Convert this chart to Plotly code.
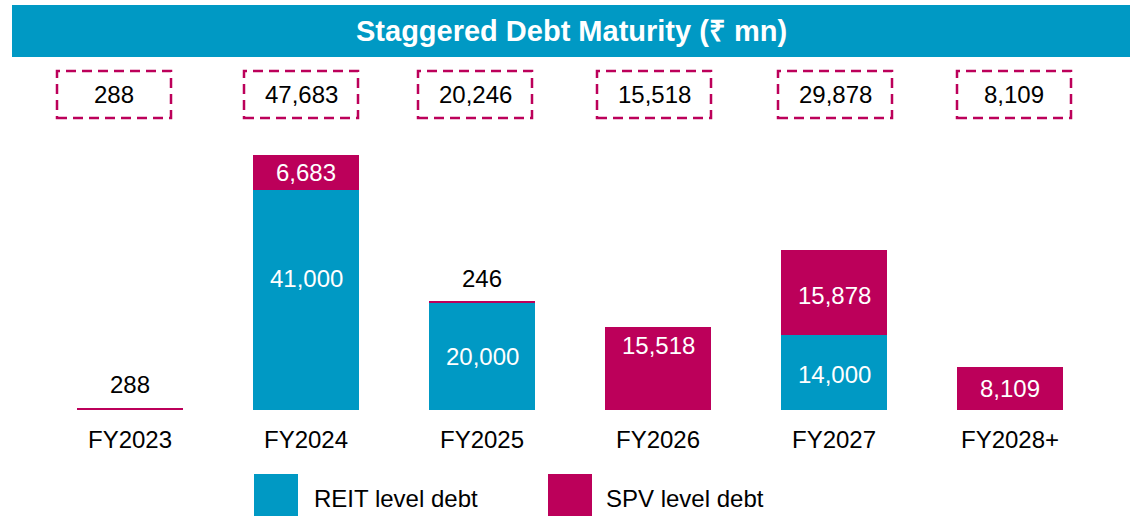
import plotly.graph_objects as go

# Debt maturity profile, values in ₹ mn
years = ["FY2023", "FY2024", "FY2025", "FY2026", "FY2027", "FY2028+"]
reit_debt = [0, 41000, 20000, 0, 14000, 0]
spv_debt = [288, 6683, 246, 15518, 15878, 8109]
totals = [r + s for r, s in zip(reit_debt, spv_debt)]

BLUE = "#0099C4"
MAGENTA = "#BC005A"
FONT = "Liberation Sans, Arial, sans-serif"
FS = 24

W, H = 1130, 516
ML, MR, MT, MB = 42, 32, 140, 106
PW, PH = W - ML - MR, H - MT - MB


def px(x):
    return (x - ML) / PW


def py(y):
    return (H - MB - y) / PH


fig = go.Figure()
fig.add_bar(x=years, y=reit_debt, name="REIT level debt", marker=dict(color=BLUE, line=dict(width=0)))
fig.add_bar(x=years, y=spv_debt, name="SPV level debt", marker=dict(color=MAGENTA, line=dict(width=0)))

annotations = []
shapes = []

# value labels inside segments (fraction of the segment height from its base)
reit_pos = [0.5, 0.6, 0.5, 0.5, 0.48, 0.5]
spv_pos = [0.5, 0.5, 0.5, 0.78, 0.47, 0.5]
for i, yr in enumerate(years):
    r, s = reit_debt[i], spv_debt[i]
    if r > 0:
        annotations.append(dict(x=yr, y=r * reit_pos[i], text=f"{r:,}", showarrow=False,
                                font=dict(color="white", size=FS, family=FONT)))
    if s > 2000:
        annotations.append(dict(x=yr, y=r + s * spv_pos[i], text=f"{s:,}", showarrow=False,
                                font=dict(color="white", size=FS, family=FONT)))
    elif s > 0:
        annotations.append(dict(x=yr, y=r + s, text=f"{s:,}", showarrow=False, yanchor="bottom",
                                yshift=8, font=dict(color="black", size=FS, family=FONT)))

# header bar
shapes.append(dict(type="rect", xref="paper", yref="paper", x0=px(12), x1=px(1130), y0=py(57), y1=py(5),
                   fillcolor=BLUE, line=dict(width=0), layer="below"))
annotations.append(dict(xref="paper", yref="paper", x=px(571), y=py(31), xanchor="center", yanchor="middle",
                        text="<b>Staggered Debt Maturity (₹ mn)</b>",
                        showarrow=False, font=dict(color="white", size=29, family=FONT)))

# dashed total boxes
box_centers = [114, 301, 475, 654, 835, 1014]
for c, t in zip(box_centers, totals):
    shapes.append(dict(type="rect", xref="paper", yref="paper", x0=px(c - 57), x1=px(c + 57),
                       y0=py(118), y1=py(71), line=dict(color=MAGENTA, width=2.5, dash="10px,6px")))
    annotations.append(dict(xref="paper", yref="paper", x=px(c), y=py(95), xanchor="center", yanchor="middle",
                            text=f"{t:,}", showarrow=False,
                            font=dict(color="black", size=FS, family=FONT)))

# legend
for x0, x1, col, tx, label in [(254, 298, BLUE, 312, "REIT level debt"), (548, 592, MAGENTA, 604, "SPV level debt")]:
    shapes.append(dict(type="rect", xref="paper", yref="paper", x0=px(x0), x1=px(x1), y0=py(518), y1=py(474),
                       fillcolor=col, line=dict(width=0)))
    annotations.append(dict(xref="paper", yref="paper", x=px(tx), y=py(498), xanchor="left", yanchor="middle",
                            text=label, showarrow=False, font=dict(color="black", size=FS, family=FONT)))

fig.update_layout(
    width=W, height=H,
    margin=dict(l=ML, r=MR, t=MT, b=MB),
    barmode="stack", bargap=0.4,
    plot_bgcolor="white", paper_bgcolor="white",
    showlegend=False,
    shapes=shapes, annotations=annotations,
    font=dict(family=FONT, color="black"),
    xaxis=dict(showgrid=False, showline=False, zeroline=False, ticks="outside", ticklen=8,
               tickcolor="rgba(0,0,0,0)", tickfont=dict(size=FS, color="black", family=FONT)),
    yaxis=dict(range=[0, 50400], visible=False, showgrid=False),
)

fig.write_html("out.html", config={"displayModeBar": False})
